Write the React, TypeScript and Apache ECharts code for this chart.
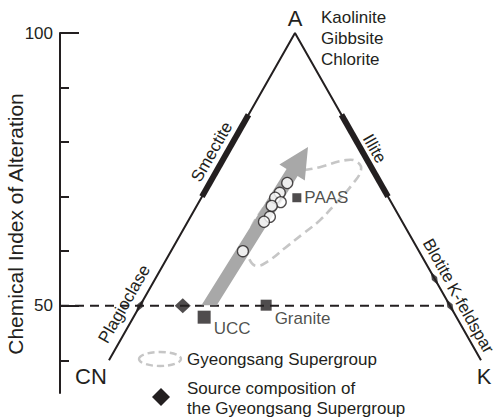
import { useEffect, useRef } from "react";
import * as echarts from "echarts";

// Compositions are molar proportions [A, CN, K]; A is the Chemical Index of Alteration (CIA).
const sampleComps: number[][] = [
  [72.5, 15.0, 12.5],
  [70.7, 17.1, 12.2],
  [69.8, 18.3, 11.9],
  [69.0, 17.8, 13.2],
  [68.3, 19.6, 12.1],
  [66.3, 20.9, 12.8],
  [65.4, 22.3, 12.3],
  [60.0, 28.4, 11.6],
];
const referenceNames = ["PAAS", "UCC", "Granite"];
const referenceComps: number[][] = [
  [69.8, 14.8, 15.4],
  [47.9, 40.7, 11.4],
  [50.1, 29.6, 20.3],
];
const sourceComp = [50.0, 43.1, 6.9];
// Field occupied by the Gyeongsang Supergroup samples
const fieldOutline: number[][] = [
  [74.0, 13.7, 12.3],
  [75.4, 8.3, 16.3],
  [76.7, 3.4, 19.9],
  [76.4, 1.8, 21.8],
  [74.9, 1.9, 23.2],
  [72.1, 4.8, 23.1],
  [68.8, 9.0, 22.2],
  [65.7, 13.1, 21.2],
  [63.2, 17.1, 19.7],
  [60.6, 21.3, 18.1],
  [58.2, 25.2, 16.6],
  [57.3, 27.5, 15.2],
  [58.4, 28.1, 13.5],
  [61.1, 27.2, 11.7],
  [64.1, 25.1, 10.8],
  [67.6, 21.5, 10.9],
  [71.2, 17.3, 11.5],
];
// Weathering trend from the source composition towards the A apex
const trendStart = [50.1, 38.8, 11.1];
const trendEnd = [79.1, 8.35, 12.55];
// Clay minerals plotted on the sides (CIA range)
const clayCiaRange = [70, 85];
// Primary minerals on the sides of the diagram
const mineralNames = ["Plagioclase", "Blotite", "K-feldspar"];
const mineralComps: number[][] = [
  [50, 50, 0],
  [55, 0, 45],
  [50, 0, 50],
];
const apexMinerals = ["Kaolinite", "Gibbsite", "Chlorite"];
const ciaMinorTicks = [40, 60, 70, 80, 90];
const ciaLabelTicks = [50, 100];
const ciaReference = 50;
const ciaBase = 40;

const INK = "#231f20";
const FONT = '"Liberation Sans", Arial, Helvetica, sans-serif';
const X_MIN = 12.1;
const X_MAX = 82.1;
const Y_MIN = 34;

// Ternary [A, CN, K] -> plot coordinates [horizontal %, CIA]
function toXY(c: number[]): number[] {
  const s = c[0] + c[1] + c[2];
  const a = (c[0] / s) * 100;
  const k = (c[2] / s) * 100;
  return [k + a / 2, a];
}

const squareSizes: Record<string, number> = { PAAS: 9, UCC: 13, Granite: 11 };
const squareLabelPos: Record<string, any> = {
  PAAS: "right",
  UCC: [16, 18],
  Granite: [14, 19],
};

function buildOption(): any {
  const triangle = [
    toXY([ciaBase, 100 - ciaBase, 0]),
    toXY([100, 0, 0]),
    toXY([ciaBase, 0, 100 - ciaBase]),
  ];
  const refLine = [[X_MIN, ciaReference], toXY([ciaReference, 0, 100 - ciaReference])];
  const smectite = clayCiaRange.map((a) => toXY([a, 100 - a, 0]));
  const illite = clayCiaRange.map((a) => toXY([a, 0, 100 - a]));
  const fieldXY = fieldOutline.map(toXY);
  const tStart = toXY(trendStart);
  const tEnd = toXY(trendEnd);

  const sideLine = (data: number[][], width: number, z: number, extra: any = {}) => ({
    type: "line",
    data,
    symbol: "none",
    silent: true,
    z,
    lineStyle: { color: INK, width, ...extra },
  });

  return {
    animation: false,
    backgroundColor: "#ffffff",
    textStyle: { fontFamily: FONT },
    grid: { left: 60, top: 33, width: 434, height: 360, containLabel: false },
    xAxis: { type: "value", min: X_MIN, max: X_MAX, show: false },
    yAxis: [
      {
        type: "value",
        min: Y_MIN,
        max: 100,
        position: "left",
        splitLine: { show: false },
        axisLine: { show: true, lineStyle: { color: INK, width: 2 } },
        axisTick: {
          show: true,
          inside: true,
          length: 9,
          customValues: ciaMinorTicks,
          lineStyle: { color: INK, width: 2 },
        },
        axisLabel: {
          show: true,
          customValues: ciaLabelTicks,
          color: INK,
          fontSize: 17,
          fontFamily: FONT,
          margin: 7,
        },
      },
      {
        type: "value",
        min: Y_MIN,
        max: 100,
        position: "left",
        splitLine: { show: false },
        axisLine: { show: false },
        axisTick: {
          show: true,
          inside: true,
          length: 19,
          customValues: ciaLabelTicks,
          lineStyle: { color: INK, width: 2 },
        },
        axisLabel: { show: false },
      },
    ],
    series: [
      sideLine(triangle, 2, 2),
      sideLine(refLine, 2, 2, { type: [9, 6] }),
      sideLine(smectite, 6, 3),
      sideLine(illite, 6, 3),
      {
        type: "scatter",
        silent: true,
        z: 4,
        symbol: "diamond",
        symbolSize: [6, 15],
        itemStyle: { color: INK },
        data: mineralComps.map((c) => ({
          value: toXY(c),
          symbolRotate: c[1] > 0 ? -29.6 : 29.6,
        })),
      },
      {
        type: "custom",
        silent: true,
        z: 5,
        data: [fieldXY[0]],
        renderItem: (_p: any, api: any) => ({
          type: "polygon",
          shape: { points: fieldXY.map((p) => api.coord(p)), smooth: 0.45 },
          style: { fill: "none", stroke: "#c6c6c6", lineWidth: 2.6, lineDash: [9, 5] },
        }),
      },
      {
        type: "custom",
        silent: true,
        z: 6,
        data: [tStart],
        renderItem: (_p: any, api: any) => {
          const a = api.coord(tStart);
          const b = api.coord(tEnd);
          let dx = b[0] - a[0];
          let dy = b[1] - a[1];
          const len = Math.hypot(dx, dy);
          dx /= len;
          dy /= len;
          const nx = -dy;
          const ny = dx;
          const hw = 6.5;
          const headLen = 30;
          const headHw = 15;
          const neck = [b[0] - dx * headLen, b[1] - dy * headLen];
          // shaft ends flat on the CIA = 50 line
          const tail = (s: number) => {
            const ox = s * nx * hw;
            const oy = s * ny * hw;
            const t = -oy / dy;
            return [a[0] + ox + t * dx, a[1] + oy + t * dy];
          };
          const points = [
            tail(1),
            [neck[0] + nx * hw, neck[1] + ny * hw],
            [neck[0] + nx * headHw, neck[1] + ny * headHw],
            b,
            [neck[0] - nx * headHw, neck[1] - ny * headHw],
            [neck[0] - nx * hw, neck[1] - ny * hw],
            tail(-1),
          ];
          return { type: "polygon", shape: { points }, style: { fill: "#a8a8a8" } };
        },
      },
      {
        type: "scatter",
        silent: true,
        z: 7,
        symbol: "circle",
        symbolSize: 11,
        itemStyle: { color: "#ffffff", borderColor: INK, borderWidth: 1.3 },
        data: sampleComps.map(toXY),
      },
      {
        type: "scatter",
        silent: true,
        z: 7,
        symbol: "rect",
        itemStyle: { color: INK },
        data: referenceComps.map((c, i) => ({
          name: referenceNames[i],
          value: toXY(c),
          symbolSize: squareSizes[referenceNames[i]],
          label: {
            show: true,
            formatter: referenceNames[i],
            position: squareLabelPos[referenceNames[i]],
            distance: 3,
            align: "left",
            verticalAlign: "middle",
            color: INK,
            fontSize: 17,
            fontFamily: FONT,
          },
        })),
      },
      {
        type: "scatter",
        silent: true,
        z: 7,
        symbol: "diamond",
        symbolSize: [16, 15],
        itemStyle: { color: INK },
        data: [toXY(sourceComp)],
      },
    ],
  };
}

export default function App() {
  const ref = useRef<HTMLDivElement>(null);

  useEffect(() => {
    if (!ref.current) return;
    const chart = echarts.init(ref.current, null, { renderer: "svg" });
    chart.setOption(buildOption());

    const px = (c: number[]) => chart.convertToPixel({ gridIndex: 0 }, toXY(c)) as number[];
    const text = (t: string, x: number, y: number, opts: any = {}) => ({
      type: "text",
      x,
      y,
      rotation: opts.rotation || 0,
      silent: true,
      z: 100,
      style: {
        text: t,
        fill: INK,
        fontSize: opts.fontSize || 17,
        fontFamily: FONT,
        align: opts.align || "center",
        verticalAlign: "middle",
      },
    });

    const apex = px([100, 0, 0]);
    const cnEnd = px([ciaBase, 100 - ciaBase, 0]);
    const kEnd = px([ciaBase, 0, 100 - ciaBase]);

    // unit vectors along each side (pixels) and their outward normals
    const leftDir = [apex[0] - cnEnd[0], apex[1] - cnEnd[1]];
    const lLen = Math.hypot(leftDir[0], leftDir[1]);
    const uL = [leftDir[0] / lLen, leftDir[1] / lLen];
    const nL = [uL[1], -uL[0]];
    const rightDir = [kEnd[0] - apex[0], kEnd[1] - apex[1]];
    const rLen = Math.hypot(rightDir[0], rightDir[1]);
    const uR = [rightDir[0] / rLen, rightDir[1] / rLen];
    const nR = [uR[1], -uR[0]];
    const leftAngle = Math.atan2(-uL[1], uL[0]);
    const rightAngle = Math.atan2(-uR[1], uR[0]);

    const sideLabel = (t: string, anchor: number[], left: boolean, along: number, perp: number) => {
      const u = left ? uL : uR;
      const n = left ? nL : nR;
      return text(t, anchor[0] + u[0] * along + n[0] * perp, anchor[1] + u[1] * along + n[1] * perp, {
        rotation: left ? leftAngle : rightAngle,
      });
    };

    const clayMid = (clayCiaRange[0] + clayCiaRange[1]) / 2;
    const smecMid = px([clayMid, 100 - clayMid, 0]);
    const illMid = px([clayMid, 0, 100 - clayMid]);
    const plag = px(mineralComps[0]);
    const bio = px(mineralComps[1]);
    const kfs = px(mineralComps[2]);
    const gridTop = apex[1];

    const legendX = 160;
    const legendTextX = 187;

    chart.setOption({
      graphic: [
        text(apexMinerals[0], apex[0] + 26, apex[1] - 16, { align: "left" }),
        text(apexMinerals[1], apex[0] + 26, apex[1] + 5, { align: "left" }),
        text(apexMinerals[2], apex[0] + 26, apex[1] + 26, { align: "left" }),
        text("A", apex[0], apex[1] - 15, { fontSize: 22 }),
        text("CN", cnEnd[0] - 18, cnEnd[1] + 16, { fontSize: 22 }),
        text("K", kEnd[0] + 3, kEnd[1] + 16, { fontSize: 22 }),
        sideLabel("Smectite", smecMid, true, -3.3, 13.5),
        sideLabel("Illite", illMid, false, -1.3, 12),
        sideLabel(mineralNames[0], plag, true, -6.2, 14.5),
        sideLabel(mineralNames[1], bio, false, -13.5, 12.5),
        sideLabel(mineralNames[2], kfs, false, 21, 11.5),
        text("Chemical Index of Alteration", 15, gridTop + 191, { rotation: Math.PI / 2, fontSize: 21 }),
        {
          type: "ellipse",
          silent: true,
          shape: { cx: legendX, cy: 359, rx: 21, ry: 7 },
          style: { fill: "none", stroke: "#c6c6c6", lineWidth: 2.4, lineDash: [7, 4] },
        },
        text("Gyeongsang Supergroup", legendTextX, 359, { align: "left" }),
        {
          type: "polygon",
          silent: true,
          shape: {
            points: [
              [legendX + 1, 388],
              [legendX + 10, 397],
              [legendX + 1, 406],
              [legendX - 8, 397],
            ],
          },
          style: { fill: INK },
        },
        text("Source composition of", legendTextX, 388, { align: "left" }),
        text("the Gyeongsang Supergroup", legendTextX, 408, { align: "left" }),
      ],
    });

    return () => chart.dispose();
  }, []);

  return (
    <div
      ref={ref}
      style={{ position: "fixed", left: 0, top: 0, width: 499, height: 420, background: "#ffffff" }}
    />
  );
}
